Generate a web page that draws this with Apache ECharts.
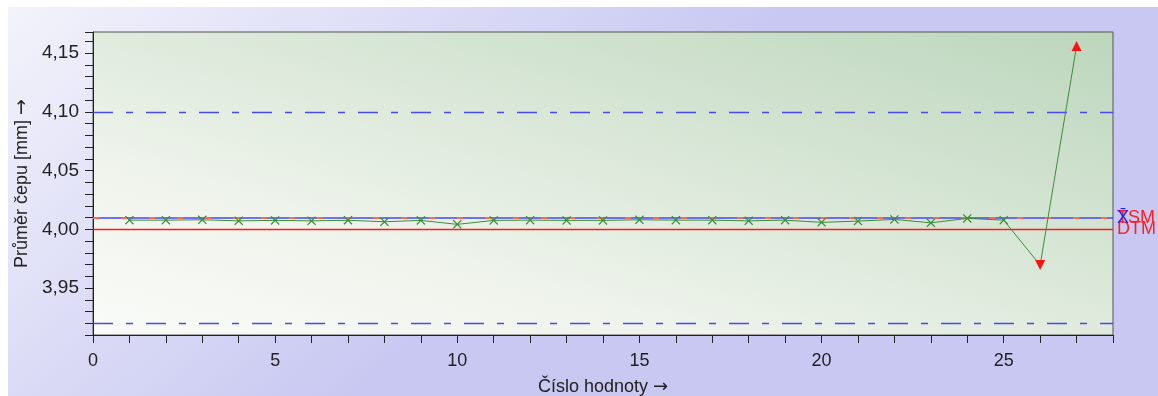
<!DOCTYPE html>
<html>
<head>
<meta charset="utf-8">
<script src="https://cdn.jsdelivr.net/npm/echarts@6/dist/echarts.min.js"></script>
<style>
html,body{margin:0;padding:0;background:#fff;}
#c{width:1158px;height:396px;}
</style>
</head>
<body>
<div id="c"></div>
<script>
// ---- data ----
const sampleNumbers = [1,2,3,4,5,6,7,8,9,10,11,12,13,14,15,16,17,18,19,20,21,22,23,24,25,26,27];
const diameters = [4.0078,4.0078,4.0081,4.0072,4.0076,4.0072,4.0077,4.0064,4.0076,4.0042,
                   4.0076,4.0078,4.0076,4.0076,4.0081,4.0078,4.0078,4.0072,4.0078,4.0059,
                   4.0070,4.0084,4.0055,4.0093,4.0078,3.9695,4.156];
const outOfLimit = {26: 'down', 27: 'up'};
const upperLimit = 4.10;
const lowerLimit = 3.92;
const meanValue = 4.0115;
const lowerLine = 4.0036;
const meanLabels = ['TSM', 'X\u0304'];
const lowerLineLabel = 'DTM';
const yTitleText = 'Průměr čepu [mm] ';
const xTitleText = 'Číslo hodnoty ';
const arrow = '→';
const xTickLabels = [0, 5, 10, 15, 20, 25];
const yTickLabels = [3.95, 4.00, 4.05, 4.10, 4.15];

const FONT = 'Liberation Sans, Arial, sans-serif';
const chart = echarts.init(document.getElementById('c'));

const pts = sampleNumbers.map((n, i) => {
  const v = diameters[i];
  const flag = outOfLimit[n];
  if (flag) {
    return {value: [n, v], symbol: 'triangle', symbolSize: [10, 10], symbolRotate: flag === 'down' ? 180 : 0,
            itemStyle: {color: '#ff1010', borderWidth: 0}};
  }
  return [n, v];
});

const xPath = 'path://M0,1L1,0L5,4L9,0L10,1L6,5L10,9L9,10L5,6L1,10L0,9L4,5Z';

const plotGrad = new echarts.graphic.LinearGradient(520, 461, 686, -94, [
  {offset: 0, color: '#fafbf8'},
  {offset: 0.3, color: '#eef3eb'},
  {offset: 1, color: '#bcd6bc'}
], true);

chart.setOption({
  animation: false,
  backgroundColor: '#ffffff',
  graphic: [{
    type: 'rect', z: -10, silent: true,
    shape: {x: 8, y: 7, width: 1150, height: 389},
    style: {fill: new echarts.graphic.LinearGradient(0, 0, 0.3, 1, [
      {offset: 0, color: '#f3f3fb'},
      {offset: 1, color: '#c8c8f2'}
    ])}
  }],
  grid: {
    left: 93, top: 32, right: 45, bottom: 61,
    outerBoundsMode: 'none',
    containLabel: false,
    show: true,
    borderColor: '#555555', borderWidth: 1,
    backgroundColor: plotGrad
  },
  xAxis: {
    type: 'value', min: 0, max: 28, interval: 1,
    name: '{t|' + xTitleText + '}{a|' + arrow + '}', nameLocation: 'middle', nameGap: 43,
    nameTextStyle: {rich: {
      t: {fontFamily: FONT, fontSize: 18, color: '#222'},
      a: {fontFamily: 'DejaVu Sans', fontSize: 18, color: '#222'}
    }},
    axisLine: {show: true, lineStyle: {color: '#222', width: 1}},
    axisTick: {show: true, length: 8, lineStyle: {color: '#222'}},
    axisLabel: {fontFamily: FONT, fontSize: 18, color: '#222', margin: 17,
      formatter: v => xTickLabels.indexOf(Math.round(v)) >= 0 ? String(Math.round(v)) : ''},
    splitLine: {show: false}
  },
  yAxis: {
    type: 'value', min: 3.91, max: 4.168, interval: 0.01,
    name: '{t|' + yTitleText + '}{a|' + arrow + '}', nameLocation: 'middle', nameGap: 57, nameRotate: 90,
    nameTextStyle: {rich: {
      t: {fontFamily: FONT, fontSize: 18, color: '#222'},
      a: {fontFamily: 'DejaVu Sans', fontSize: 19, color: '#222'}
    }},
    axisLine: {show: true, lineStyle: {color: '#222', width: 1}},
    axisTick: {show: true, length: 8, lineStyle: {color: '#222'}},
    axisLabel: {fontFamily: FONT, fontSize: 19, color: '#222', margin: 14,
      formatter: v => {
        const k = Math.round(v * 100);
        return yTickLabels.some(t => Math.round(t * 100) === k) ? (k / 100).toFixed(2).replace('.', ',') : '';
      }},
    splitLine: {show: false}
  },
  series: [
    {
      type: 'line', silent: true, data: [], z: 2,
      markLine: {
        silent: true, symbol: 'none', animation: false,
        data: [
          {yAxis: upperLimit, lineStyle: {color: '#4a4ae6', width: 1.3, type: [20, 13, 7, 13]}, label: {show: false}},
          {yAxis: lowerLimit, lineStyle: {color: '#4a4ae6', width: 1.3, type: [20, 13, 7, 13]}, label: {show: false}},
          {yAxis: lowerLine, lineStyle: {color: '#ff1a1a', width: 1.4, type: 'solid', opacity: 1},
            label: {show: true, position: 'end', distance: 4, formatter: lowerLineLabel, color: '#ff2020', fontFamily: FONT, fontSize: 18}},
          {yAxis: meanValue, lineStyle: {color: '#4646f0', width: 1.5, type: 'solid'},
            label: {show: true, position: 'end', distance: 4, formatter: meanLabels[0], color: '#ff2020', fontFamily: FONT, fontSize: 18}},
          {yAxis: meanValue, lineStyle: {color: '#ff6a4a', width: 1.8, type: [6, 22]},
            label: {show: true, position: 'end', distance: 4, formatter: meanLabels[1], color: '#2020ff', fontFamily: FONT, fontSize: 18}}
        ]
      }
    },
    {
      type: 'line', z: 5,
      data: pts,
      symbol: xPath, symbolSize: 9,
      showAllSymbol: true,
      lineStyle: {color: '#3a8f3a', width: 1},
      itemStyle: {color: '#3a8f3a'}
    }
  ]
});
</script>
</body>
</html>
